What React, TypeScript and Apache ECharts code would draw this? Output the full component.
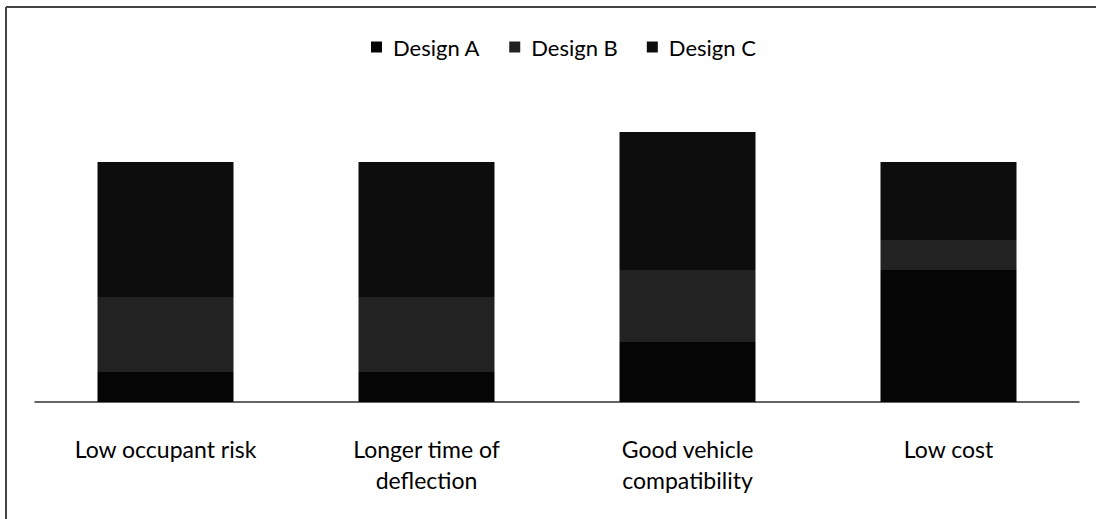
import React, { useEffect, useRef } from "react";
import * as echarts from "echarts";

const categories = [
  "Low occupant risk",
  "Longer time of\ndeflection",
  "Good vehicle\ncompatibility",
  "Low cost",
];
const designA = [1.0, 1.0, 2.0, 4.4];
const designB = [2.5, 2.5, 2.4, 1.0];
const designC = [4.5, 4.5, 4.6, 2.6];
const seriesNames = ["Design A", "Design B", "Design C"];
const seriesColors = ["#050505", "#222222", "#0d0d0d"];

export default function App() {
  const ref = useRef<HTMLDivElement>(null);
  useEffect(() => {
    document.body.style.margin = "0";
    const chart = echarts.init(ref.current!, null, { renderer: "svg" });
    const values = [designA, designB, designC];
    chart.setOption({
      animation: false,
      backgroundColor: "#ffffff",
      legend: {
        top: 31,
        left: 366,
        itemWidth: 11,
        itemHeight: 11,
        itemGap: 29,
        icon: "rect",
        textStyle: {
          fontFamily: "Lato",
          fontSize: 22,
          color: "#000",
          padding: [0, 0, 0, 6],
        },
        data: seriesNames,
      },
      grid: { left: 35, right: 17, top: 102, bottom: 117 },
      xAxis: {
        type: "category",
        data: categories,
        axisTick: { show: false },
        axisLine: { lineStyle: { color: "#333", width: 1.5 } },
        axisLabel: {
          margin: 31,
          fontFamily: "Lato",
          fontSize: 23,
          lineHeight: 31,
          color: "#000",
          interval: 0,
        },
      },
      yAxis: {
        type: "value",
        min: 0,
        max: 10,
        show: false,
        splitLine: { show: false },
      },
      series: seriesNames.map((name, i) => ({
        name,
        type: "bar",
        stack: "total",
        barWidth: 136,
        itemStyle: { color: seriesColors[i] },
        data: values[i],
      })),
      graphic: [
        {
          type: "line",
          shape: { x1: 6, y1: 7, x2: 6, y2: 519 },
          style: { stroke: "#444", lineWidth: 2 },
        },
        {
          type: "line",
          shape: { x1: 6, y1: 7, x2: 1096, y2: 7 },
          style: { stroke: "#444", lineWidth: 2 },
        },
      ],
    });
    return () => chart.dispose();
  }, []);
  return (
    <div
      ref={ref}
      style={{ position: "fixed", left: 0, top: 0, width: 1096, height: 519 }}
    />
  );
}
